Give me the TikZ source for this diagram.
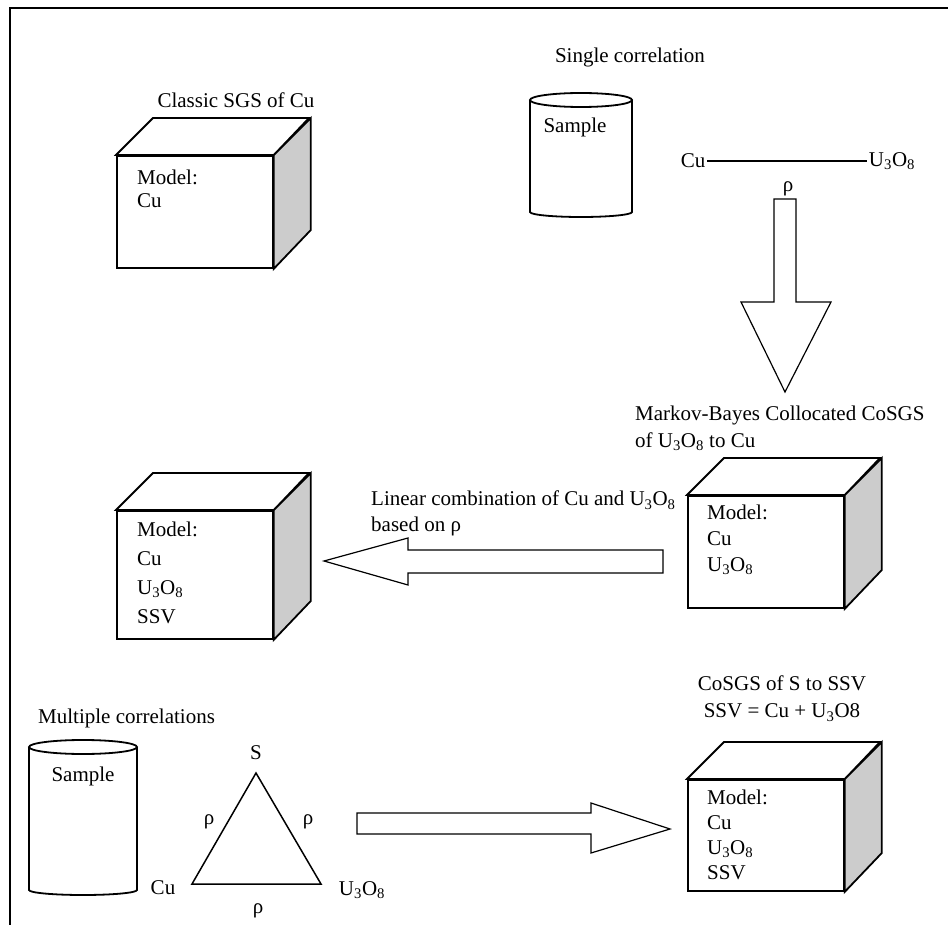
\documentclass[tikz,border=0pt]{standalone}
\usepackage{fontspec}
\setmainfont{Liberation Serif}
\usetikzlibrary{positioning}
\newcommand{\uoxide}{U\textsubscript{3}O\textsubscript{8}}

\begin{document}
\begin{tikzpicture}[
  x=1pt, y=-1pt,
  every node/.style={font=\fontsize{21}{25}\selectfont, inner sep=2pt},
  face/.style={draw, line width=1.8pt, fill=white},
  shade/.style={draw, line width=1.8pt, fill=black!20},
  front/.style={face, rectangle, minimum width=156pt, inner sep=0pt, anchor=north west},
  model/.style={align=left, anchor=north west, inner sep=0pt},
  caption/.style={align=left, anchor=north west, inner sep=0pt, font=\fontsize{21}{27}\selectfont},
  blockarrow/.style={draw, line width=1.2pt, fill=white, line join=miter},
  cyl/.style={draw, line width=1.8pt},
  tri/.style={draw, line width=1.5pt}
]
\useasboundingbox (0,0) rectangle (948,925);

\draw[line width=2pt] (10,925) -- (10,8) -- (948,8);

\foreach \n/\x/\y/\h in {cubeA/116/155/112, cubeB/116/510/128, cubeC/687/495/112, cubeD/687/779/111}{
  \node[front, minimum height=\h pt] (\n) at (\x,\y) {};
  \draw[face] (\n.north west) -- ++(37,-37) -- ++(156,0) -- (\n.north east) -- cycle;
  \draw[shade] (\n.north east) -- ++(37,-37) -- ++(0,\h) -- (\n.south east) -- cycle;
}

\node[model, font=\fontsize{21}{23}\selectfont] (txtA) at (137,170) {Model:\\Cu};
\node[model, font=\fontsize{21}{29}\selectfont] (txtB) at (137,522) {Model:\\Cu\\\uoxide\\SSV};
\node[model, font=\fontsize{21}{26}\selectfont] (txtC) at (707,505) {Model:\\Cu\\\uoxide};
\node[model] (txtD) at (707,790) {Model:\\Cu\\\uoxide\\SSV};

\node (classic) at (236,100) {Classic SGS of Cu};
\node (single) at (630,57) {Single correlation};

\draw[cyl] (530,100) -- (530,212) arc[start angle=180, end angle=360, x radius=51pt, y radius=5pt] -- (632,100);
\draw[cyl] (581,100) ellipse[x radius=51pt, y radius=7pt];
\node (sampleA) at (575,127) {Sample};

\node (cuA) at (693,161) {Cu};
\node (uoA) at (892,161) {\uoxide};
\draw[line width=1.2pt] (cuA) -- (cuA -| uoA.west);
\node (rhoA) at (788,189) {ρ};

\draw[blockarrow] (774,199) -- (796,199) -- (796,302) -- (831,302) -- (785,392)
  -- (741,302) -- (774,302) -- cycle;

\node[caption] (markov) at (635,406) {Markov-Bayes Collocated CoSGS\\of \uoxide{} to Cu};
\node[caption, font=\fontsize{21}{26}\selectfont] (linear) at (371,491) {Linear combination of Cu and \uoxide\\based on ρ};

\draw[blockarrow] (663,550) -- (408,550) -- (408,538) -- (324,561) -- (408,585)
  -- (408,573) -- (663,573) -- cycle;

\node[caption, align=center, anchor=north] (cosgs) at (782,676) {CoSGS of S to SSV\\SSV = Cu + U\textsubscript{3}O8};
\node[anchor=west] (multi) at (36,718) {Multiple correlations};

\draw[cyl] (29,747) -- (29,890) arc[start angle=180, end angle=360, x radius=54pt, y radius=5pt] -- (137,747);
\draw[cyl] (83,747) ellipse[x radius=54pt, y radius=7pt];
\node (sampleB) at (83,776) {Sample};

\coordinate (apex) at (256,773);
\coordinate (cornerL) at (192,884);
\coordinate (cornerR) at (321,884);
\draw[tri] (apex) -- (cornerL) -- (cornerR) -- cycle;
\node[above=11pt of apex] (sB) {S};
\node (rhoL) at (209,822) {ρ};
\node (rhoR) at (308,822) {ρ};
\node (cuB) at (163,888) {Cu};
\node (uoB) at (362,890) {\uoxide};
\node (rhoB) at (258,911) {ρ};

\draw[blockarrow] (357,813) -- (591,813) -- (591,803) -- (670,829) -- (591,853)
  -- (591,834) -- (357,834) -- cycle;
\end{tikzpicture}
\end{document}
